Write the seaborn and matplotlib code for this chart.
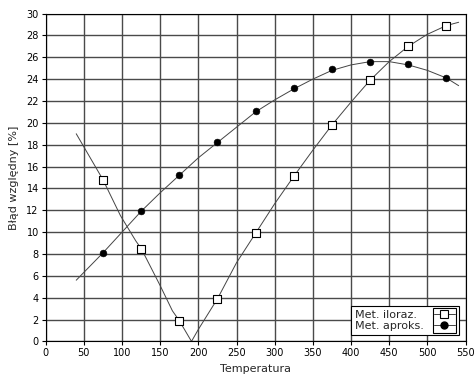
import numpy as np
import pandas as pd
import matplotlib
matplotlib.use("Agg")
import matplotlib.pyplot as plt
from matplotlib.patches import Rectangle
import seaborn as sns

# measured points
temp = [75, 125, 175, 225, 275, 325, 375, 425, 475, 525]
err_iloraz = [14.8, 8.5, 1.9, 3.9, 9.9, 15.1, 19.8, 23.9, 27.0, 28.9]
err_aproks = [8.1, 11.9, 15.2, 18.2, 21.1, 23.2, 24.9, 25.6, 25.4, 24.1]

# curves
curve_x_il = [40, 75, 98, 118, 125, 131, 150, 166, 175, 191, 200, 225, 250, 275, 300,
              325, 350, 375, 400, 425, 450, 475, 500, 525, 541]
curve_y_il = [19.0, 14.8, 11.5, 9.2, 8.5, 7.7, 5.1, 2.8, 1.9, 0.0, 1.1, 3.9, 7.2, 9.9, 12.6,
              15.1, 17.5, 19.8, 21.9, 23.9, 25.6, 27.0, 28.1, 28.9, 29.2]
curve_x_ap = [40, 75, 100, 125, 150, 175, 200, 225, 250, 275, 300, 325, 350, 375, 400,
              425, 450, 475, 500, 525, 541]
curve_y_ap = [5.6, 8.1, 10.0, 11.9, 13.6, 15.2, 16.8, 18.2, 19.6, 21.0, 22.1, 23.1, 24.0,
              24.8, 25.3, 25.6, 25.6, 25.3, 24.8, 24.1, 23.4]

labels = ['Met. iloraz.', 'Met. aproks.']

sns.set_style("white")
plt.rcParams['font.family'] = ['DejaVu Sans']

fig = plt.figure(figsize=(4.76, 3.76), dpi=100)
ax = fig.add_axes([0.096, 0.092, 0.882, 0.872])

grid_col = '#4a4a4a'
for v in range(0, 551, 50):
    ax.axvline(v, color=grid_col, lw=1, zorder=0)
for v in range(0, 31, 2):
    ax.axhline(v, color=grid_col, lw=1, zorder=0)

line_col = '#444444'
sns.lineplot(x=curve_x_il, y=curve_y_il, ax=ax, color=line_col, lw=0.7, sort=False)
sns.lineplot(x=curve_x_ap, y=curve_y_ap, ax=ax, color=line_col, lw=0.7, sort=False)

sns.scatterplot(x=temp, y=err_iloraz, ax=ax, marker='s', s=28, color='white',
                edgecolor='black', linewidth=0.8, zorder=5)
sns.scatterplot(x=temp, y=err_aproks, ax=ax, marker='o', s=24, color='black',
                edgecolor='black', linewidth=0.4, zorder=5)

ax.set_xlim(0, 550)
ax.set_ylim(0, 30)
ax.set_xticks(range(0, 551, 50))
ax.set_yticks(range(0, 31, 2))
ax.tick_params(axis='both', direction='out', length=3, width=0.8, labelsize=7,
               colors='black', pad=2, left=True, bottom=True)
for s in ax.spines.values():
    s.set_color('black')
    s.set_linewidth(0.8)

ax.set_xlabel('Temperatura', fontsize=8, labelpad=4)
ax.set_ylabel('Błąd względny [%]', fontsize=8, labelpad=5)

# pad the shorter label so the right-aligned legend column reads left-aligned
fig.canvas.draw()
r = fig.canvas.get_renderer()
widths = []
for lab in labels:
    t = fig.text(0, 0, lab, fontsize=8)
    widths.append(t.get_window_extent(r).width)
    t.remove()
sp = fig.text(0, 0, 'a a', fontsize=8)
sw = sp.get_window_extent(r).width
sp.remove()
sp = fig.text(0, 0, 'aa', fontsize=8)
sw -= sp.get_window_extent(r).width
sp.remove()
wmax = max(widths)
padded = [lab + ' ' * int(round((wmax - w) / sw)) for lab, w in zip(labels, widths)]

ax.plot([], [], color=line_col, lw=0.7, marker='s', markersize=5.5, markerfacecolor='white',
        markeredgecolor='black', markeredgewidth=0.8, label=padded[0])
ax.plot([], [], color=line_col, lw=0.7, marker='o', markersize=5, markerfacecolor='black',
        markeredgecolor='black', label=padded[1])

fs = 8
bpad, hlen = 0.35, 1.9
leg = ax.legend(loc='lower right', markerfirst=False, fontsize=fs, frameon=True,
                fancybox=False, edgecolor='black', framealpha=1, handlelength=hlen,
                borderpad=bpad, labelspacing=0.05, handletextpad=0.9,
                borderaxespad=0.6)
leg.get_frame().set_linewidth(0.8)

# little box around the legend symbols, as in the original
fig.canvas.draw()
fb = leg.get_frame().get_window_extent(r)
pt = fig.dpi / 72.0
bx1 = fb.x1 - bpad * fs * pt + 1
bx0 = bx1 - hlen * fs * pt - 2
by0, by1 = fb.y0 + 2, fb.y1 - 2
W, H = fig.bbox.width, fig.bbox.height
fig.add_artist(Rectangle((bx0 / W, by0 / H), (bx1 - bx0) / W, (by1 - by0) / H,
                         transform=fig.transFigure, fill=False, edgecolor='black',
                         lw=0.8, zorder=10))

fig.savefig('out.png', dpi=100)
